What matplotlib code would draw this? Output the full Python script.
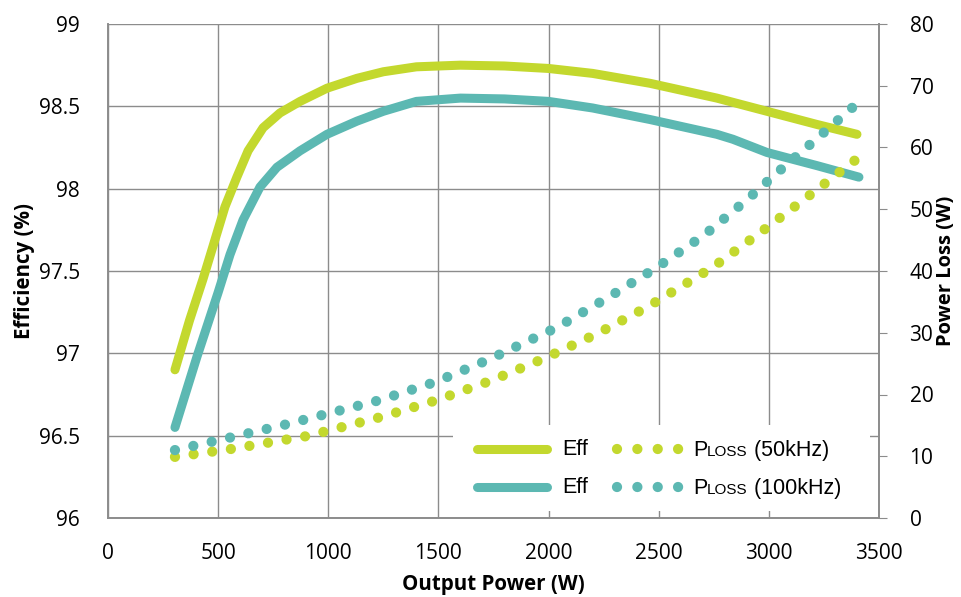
import matplotlib
matplotlib.use("Agg")
import matplotlib.pyplot as plt
from matplotlib.lines import Line2D
from matplotlib.patches import Rectangle
from matplotlib.offsetbox import TextArea, HPacker, AnchoredOffsetbox

# ---------------- data ----------------
eff50_x = [304, 370, 431, 472, 531, 585, 636, 704, 781, 872, 994, 1130, 1250, 1400, 1600,
           1800, 2000, 2200, 2460, 2764, 2991, 3218, 3400]
eff50_y = [96.90, 97.20, 97.45, 97.63, 97.89, 98.07, 98.23, 98.37, 98.46, 98.53, 98.61, 98.67,
           98.71, 98.74, 98.75, 98.745, 98.73, 98.70, 98.64, 98.55, 98.47, 98.39, 98.33]

eff100_x = [304, 404, 500, 554, 613, 690, 767, 872, 994, 1130, 1250, 1400, 1600, 1800, 2000,
            2200, 2460, 2764, 2837, 2991, 3218, 3409]
eff100_y = [96.55, 96.98, 97.37, 97.60, 97.81, 98.01, 98.13, 98.23, 98.33, 98.41, 98.47, 98.53,
            98.55, 98.545, 98.53, 98.49, 98.42, 98.33, 98.30, 98.22, 98.14, 98.07]

ploss50_x = [304, 563, 908, 1244, 1494, 1743, 1984, 2218, 2450, 2745, 2960, 3168, 3390]
ploss50_y = [9.9, 11.2, 13.3, 16.4, 19.1, 22.3, 25.9, 29.8, 34.2, 40.6, 46.2, 51.8, 57.9]

ploss100_x = [304, 563, 813, 1235, 1484, 1725, 2040, 2265, 2488, 2706, 2906, 3037, 3168, 3300, 3390]
ploss100_y = [11.0, 13.1, 15.2, 19.1, 22.0, 25.6, 30.9, 35.6, 40.5, 45.8, 51.7, 55.9, 59.9, 64.0, 66.8]

x_ticks = [0, 500, 1000, 1500, 2000, 2500, 3000, 3500]
eff_ticks = [96, 96.5, 97, 97.5, 98, 98.5, 99]
eff_labels = ["96", "96.5", "97", "97.5", "98", "98.5", "99"]
ploss_ticks = [0, 10, 20, 30, 40, 50, 60, 70, 80]

# ---------------- style ----------------
GREEN = "#C3D82E"
TEAL = "#5CB8B2"
GRID = "#8C8C8C"
W, H = 961, 597
LW = 6.5
DLW = 7.4
DOT = (0, (0.001, 1.83))
TICKFONT = "Open Sans"

fig = plt.figure(figsize=(W / 100, H / 100), dpi=100)
L, R, B, T = 108, 879, 518, 24
ax = fig.add_axes([L / W, 1 - B / H, (R - L) / W, (B - T) / H])
ax2 = ax.twinx()

ax.set_xlim(0, 3500)
ax.set_ylim(96, 99)
ax2.set_ylim(0, 80)

ax.set_xticks(x_ticks)
ax.set_yticks(eff_ticks)
ax.set_yticklabels(eff_labels)
ax2.set_yticks(ploss_ticks)

ax.grid(True, color=GRID, linewidth=1.0)
ax.set_axisbelow(True)

for a in (ax, ax2):
    for s in a.spines.values():
        s.set_color(GRID)
        s.set_linewidth(1.2)
    a.spines["top"].set_visible(False)

ax.tick_params(axis="x", length=0, pad=18, labelsize=15)
ax.tick_params(axis="y", length=0, pad=20, labelsize=15)
ax2.tick_params(axis="y", length=6, color=GRID, pad=16, labelsize=15, direction="out")
for lab in ax.get_xticklabels() + ax.get_yticklabels() + ax2.get_yticklabels():
    lab.set_fontfamily(TICKFONT)

ax.set_xlabel("Output Power (W)", fontsize=14.8, fontweight="bold", family="Open Sans", labelpad=7)
ax.set_ylabel("Efficiency (%)", fontsize=14.8, fontweight="bold", family="Open Sans", labelpad=3)
ax2.set_ylabel("Power Loss (W)", fontsize=14.5, fontweight="bold", family="Open Sans", labelpad=2)

# legend background (covers gridlines)
bg = Rectangle((453 / W, 1 - 511 / H), (870 - 453) / W, (511 - 425) / H,
               transform=fig.transFigure, facecolor="white", edgecolor="none", zorder=1)
fig.add_artist(bg)
ax.set_zorder(0)
ax2.set_zorder(2)
ax2.patch.set_visible(False)

# data
ax.plot(eff50_x, eff50_y, color=GREEN, lw=LW, solid_capstyle="round", solid_joinstyle="round", zorder=3)
ax.plot(eff100_x, eff100_y, color=TEAL, lw=LW, solid_capstyle="round", solid_joinstyle="round", zorder=3)
ax2.plot(ploss50_x, ploss50_y, color=GREEN, lw=DLW, linestyle=DOT, dash_capstyle="round")
ax2.plot(ploss100_x, ploss100_y, color=TEAL, lw=DLW, linestyle=DOT, dash_capstyle="round")

# ---------------- legend (manual) ----------------
def fx(px):
    return px / W

def fy(py):
    return 1 - py / H

LFONT = "Liberation Sans"
rows = [(449, GREEN, "(50kHz)"), (487, TEAL, "(100kHz)")]
for py, col, lab in rows:
    fig.add_artist(Line2D([fx(477), fx(547)], [fy(py), fy(py)], color=col, lw=LW,
                          solid_capstyle="round", transform=fig.transFigure, zorder=5))
    fig.text(fx(562), fy(py) - 0.001, "Eff", fontsize=15.5, family=LFONT,
             va="center", ha="left", zorder=5)
    fig.add_artist(Line2D([fx(617), fx(679)], [fy(py), fy(py)], color=col, lw=DLW,
                          linestyle=(0, (0.001, 1.98)), dash_capstyle="round",
                          transform=fig.transFigure, zorder=5))
    hp = HPacker(children=[
        TextArea("P", textprops=dict(fontsize=15.5, family=LFONT)),
        TextArea("LOSS", textprops=dict(fontsize=11, family=LFONT)),
        TextArea(" " + lab, textprops=dict(fontsize=15.5, family=LFONT)),
    ], align="baseline", pad=0, sep=0)
    ab = AnchoredOffsetbox(loc="center left", child=hp, pad=0, borderpad=0, frameon=False,
                           bbox_to_anchor=(fx(693), fy(py) - 0.003), bbox_transform=fig.transFigure)
    ab.set_zorder(5)
    fig.add_artist(ab)

fig.savefig("out.png", dpi=100)
